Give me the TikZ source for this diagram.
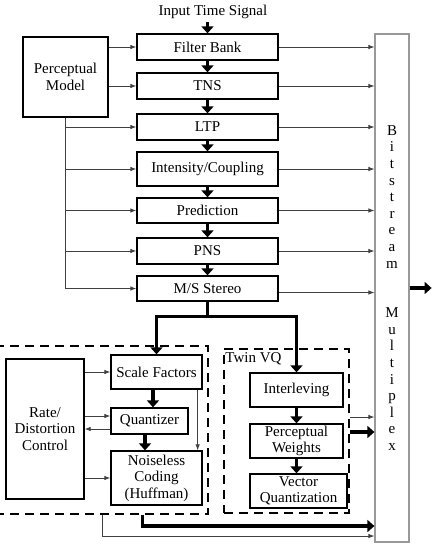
\documentclass[tikz,border=0pt]{standalone}
\usepackage{fontspec}
\setmainfont{Liberation Serif}
\usetikzlibrary{arrows.meta}

\begin{document}
\begin{tikzpicture}[x=1pt,y=-1pt,
  font=\fontsize{15}{16.5}\selectfont,
  blk/.style={draw,line width=1.3pt,inner sep=0pt,align=center},
  thin/.style={line width=0.8pt,draw=black!75,-{Latex[length=6pt,width=4.5pt]}},
  fat/.style={line width=3.5pt,-{Triangle[length=7pt,width=12pt]}},
  grp/.style={draw,line width=1.6pt,dash pattern=on 9pt off 6pt,inner sep=0pt}]
  \useasboundingbox (0,0) rectangle (431,546);
  % coder chain
  \node (in) at (213,12) {Input Time Signal};
  \node[blk,minimum width=141,minimum height=26] (fb) at (207.5,47) {Filter Bank};
  \node[blk,minimum width=141,minimum height=26] (tns) at (207.5,86) {TNS};
  \node[blk,minimum width=141,minimum height=26] (ltp) at (207.5,127) {LTP};
  \node[blk,minimum width=141,minimum height=34] (ic) at (207.5,169) {Intensity/Coupling};
  \node[blk,minimum width=141,minimum height=25] (pred) at (207.5,210.5) {Prediction};
  \node[blk,minimum width=141,minimum height=26] (pns) at (207.5,251) {PNS};
  \node[blk,minimum width=141,minimum height=25] (ms) at (207.5,288.5) {M/S Stereo};
  \node[blk,minimum width=85,minimum height=80] (pm) at (65.5,77) {Perceptual\\Model};
  \node[draw=black!40,line width=1.2pt,minimum width=34,minimum height=508,inner sep=0pt,
    align=center,font=\fontsize{15}{16.6}\selectfont] (bs) at (392,288)
    {B\\i\\t\\s\\t\\r\\e\\a\\m\\[33pt]M\\u\\l\\t\\i\\p\\l\\e\\x};
  % quantization groups
  \node[grp,minimum width=213,minimum height=168] (lq) at (101.5,430) {};
  \node[grp,minimum width=125,minimum height=164] (tvq) at (286.5,431) {};
  \node[anchor=north west,inner sep=0pt] (tl) at ([xshift=2pt,yshift=-4pt]tvq.north west) {Twin VQ};
  \node[blk,minimum width=78,minimum height=140] (rd) at (45,429) {Rate/\\Distortion\\Control};
  \node[blk,minimum width=91,minimum height=34] (sf) at (156.5,372) {Scale Factors};
  \node[blk,minimum width=77,minimum height=26] (qz) at (149.5,421) {Quantizer};
  \node[blk,minimum width=91,minimum height=54] (nc) at (156.5,478) {Noiseless\\Coding\\(Huffman)};
  \node[blk,minimum width=93,minimum height=34] (il) at (296.5,390) {Interleving};
  \node[blk,minimum width=93,minimum height=34] (pw) at (296.5,441) {Perceptual\\Weights};
  \node[blk,minimum width=97,minimum height=34] (vq) at (298.5,491) {Vector\\Quantization};

  \draw[fat] (in.south -| fb.north) -- (fb.north);
  \foreach \a/\b in {fb/tns,tns/ltp,ltp/ic,ic/pred,pred/pns,pns/ms}
    \draw[fat] (\a) -- (\b);
  \foreach \n in {fb,tns,ltp,ic,pred,pns}
    \draw[thin] (\n.east) -- (\n.east -| bs.west);
  \draw[thin] ([yshift=-4pt]ms.east) -- ([yshift=-4pt]ms.east -| bs.west);
  \draw[thin] (pm.east |- fb) -- (fb.west);
  \draw[thin] (pm.east |- tns) -- (tns.west);
  \draw[line width=0.8pt,draw=black!75] (pm.south) -- (pm.south |- ms);
  \foreach \n in {ltp,ic,pred,pns,ms}
    \draw[thin] (pm.south |- \n) -- (\n.west);
  % split below M/S
  \coordinate (sp) at ([yshift=-15pt]ms.south);
  \draw[line width=3.5pt] (ms.south) -- (sp);
  \draw[fat] (sp) -| (sf.north);
  \draw[fat] (sp) -| (il.north);
  % rate loop
  \draw[thin] (rd.east |- sf) -- (sf.west);
  \draw[thin] ([yshift=5pt]qz.west -| rd.east) -- ([yshift=5pt]qz.west);
  \draw[thin] ([yshift=-8pt]qz.west) -- ([yshift=-8pt]qz.west -| rd.east);
  \draw[thin] (rd.east |- nc) -- (nc.west);
  \draw[fat] ([xshift=-3.5pt]sf.south) -- ([xshift=-3.5pt]sf.south |- qz.north);
  \draw[fat] ([xshift=-4.5pt]qz.south) -- ([xshift=-4.5pt]qz.south |- nc.north);
  \draw[thin] ([xshift=-5pt]sf.south east) -- ([xshift=-5pt]sf.south east |- nc.north);
  \draw[fat] ([xshift=32pt]nc.south west |- lq.south) |- ([yshift=-238pt]bs.west);
  \draw[thin] ([xshift=-8pt]nc.south west |- lq.south) |- ([yshift=-248pt]bs.west);
  % twin vq
  \draw[fat] (il) -- (pw);
  \draw[fat] (pw.south) -- (pw.south |- vq.north);
  \draw[thin] ([yshift=14pt]tvq.east) -- ([yshift=14pt]tvq.east -| bs.west);
  \draw[fat] ([yshift=-1pt]tvq.east) -- ([yshift=-1pt]tvq.east -| bs.west);
  \draw[fat] (bs.east) -- ++(22,0);
\end{tikzpicture}
\end{document}
